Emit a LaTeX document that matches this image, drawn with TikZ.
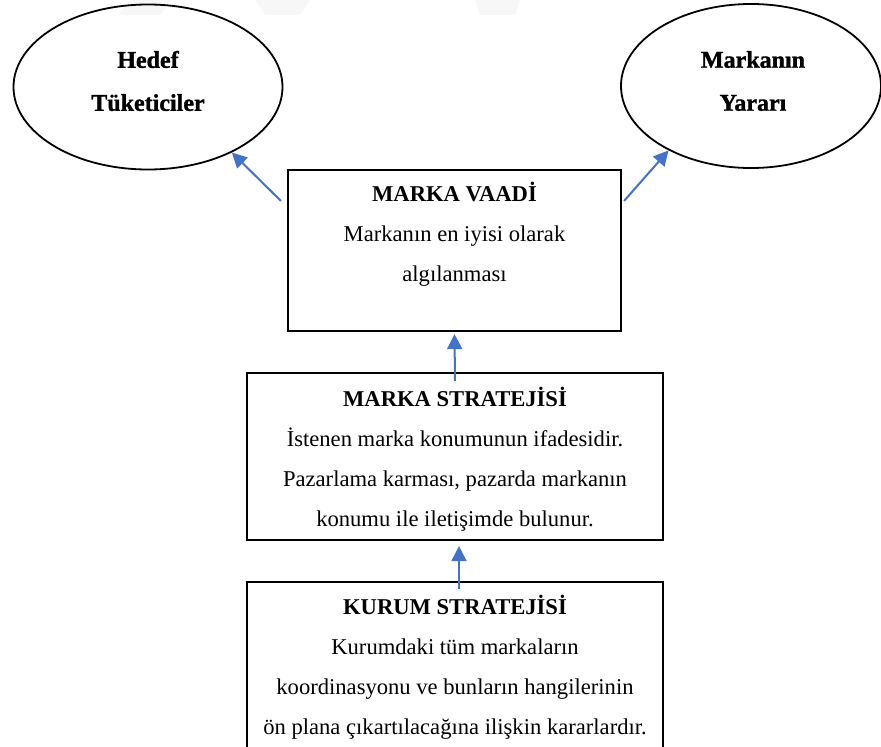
\documentclass[tikz,border=0pt]{standalone}
\usepackage{fontspec}
\setmainfont{Liberation Serif}
\newfontfamily\ovalfont[FakeBold=1.3]{Liberation Serif Bold}
\usetikzlibrary{shapes.geometric,arrows.meta}
\tikzset{
  oval/.style={draw=black, line width=1.8pt, ellipse, inner sep=0pt},
  ovaltext/.style={font=\ovalfont\fontsize{24}{43}\selectfont, align=center, inner sep=0pt},
  boxshape/.style={draw=black, line width=2.2pt, rectangle, inner sep=0pt},
  boxtext/.style={font=\fontsize{22.6}{40}\selectfont, align=center, inner sep=0pt},
  arr/.style={draw={rgb,255:red,68;green,114;blue,196}, line width=2pt,
    -{Triangle[length=15pt,width=15pt]}},
  wm/.style={fill=black!3, draw=none}
}
\begin{document}
\begin{tikzpicture}[x=1pt,y=-1pt]
\useasboundingbox (0,0) rectangle (881,747);
\clip (0,0) rectangle (881,747);
% faint watermark
\fill[wm] (130,0) -- (172,0) -- (160,15) -- (118,15) -- cycle;
\fill[wm] (255,0) -- (310,0) -- (300,15) -- (265,15) -- cycle;
\fill[wm] (475,0) -- (520,0) -- (515,15) -- (480,15) -- cycle;
% ellipses
\node[oval, minimum width=269pt, minimum height=165pt] (hedef) at (148,87) {};
\node[ovaltext] (hedeft) at (148,81) {Hedef\\Tüketiciler};
\node[oval, minimum width=260pt, minimum height=164pt] (yarar) at (751,86) {};
\node[ovaltext] (yarart) at (753,81) {Markanın\\Yararı};
% boxes
\node[boxshape, minimum width=333pt, minimum height=161pt] (vaad) at (454.5,250.5) {};
\node[boxtext, anchor=north] (vaadt) at (454.5,182) {\textbf{MARKA VAADİ}\\Markanın en iyisi olarak\\algılanması};
\node[boxshape, minimum width=416pt, minimum height=167pt] (strat) at (455,456.5) {};
\node[boxtext, anchor=north] (stratt) at (455,387) {\textbf{MARKA STRATEJİSİ}\\İstenen marka konumunun ifadesidir.\\Pazarlama karması, pazarda markanın\\konumu ile iletişimde bulunur.};
\node[boxshape, minimum width=416pt, minimum height=190pt] (kurum) at (455,677) {};
\node[boxtext, anchor=north] (kurumt) at (455,595) {\textbf{KURUM STRATEJİSİ}\\Kurumdaki tüm markaların\\koordinasyonu ve bunların hangilerinin\\ön plana çıkartılacağına ilişkin kararlardır.};
% arrows
\draw[arr] ([shift={(-6pt,-32pt)}]vaad.north west) -- (hedef.-38);
\draw[arr] ([shift={(2pt,-32pt)}]vaad.north east) -- (yarar.-142);
\draw[arr] ([yshift=-9pt]strat.north) -- ([yshift=-2pt]vaad.south);
\draw[arr] ([shift={(4pt,-8pt)}]kurum.north) -- ([shift={(4pt,-5pt)}]strat.south);
\end{tikzpicture}
\end{document}
